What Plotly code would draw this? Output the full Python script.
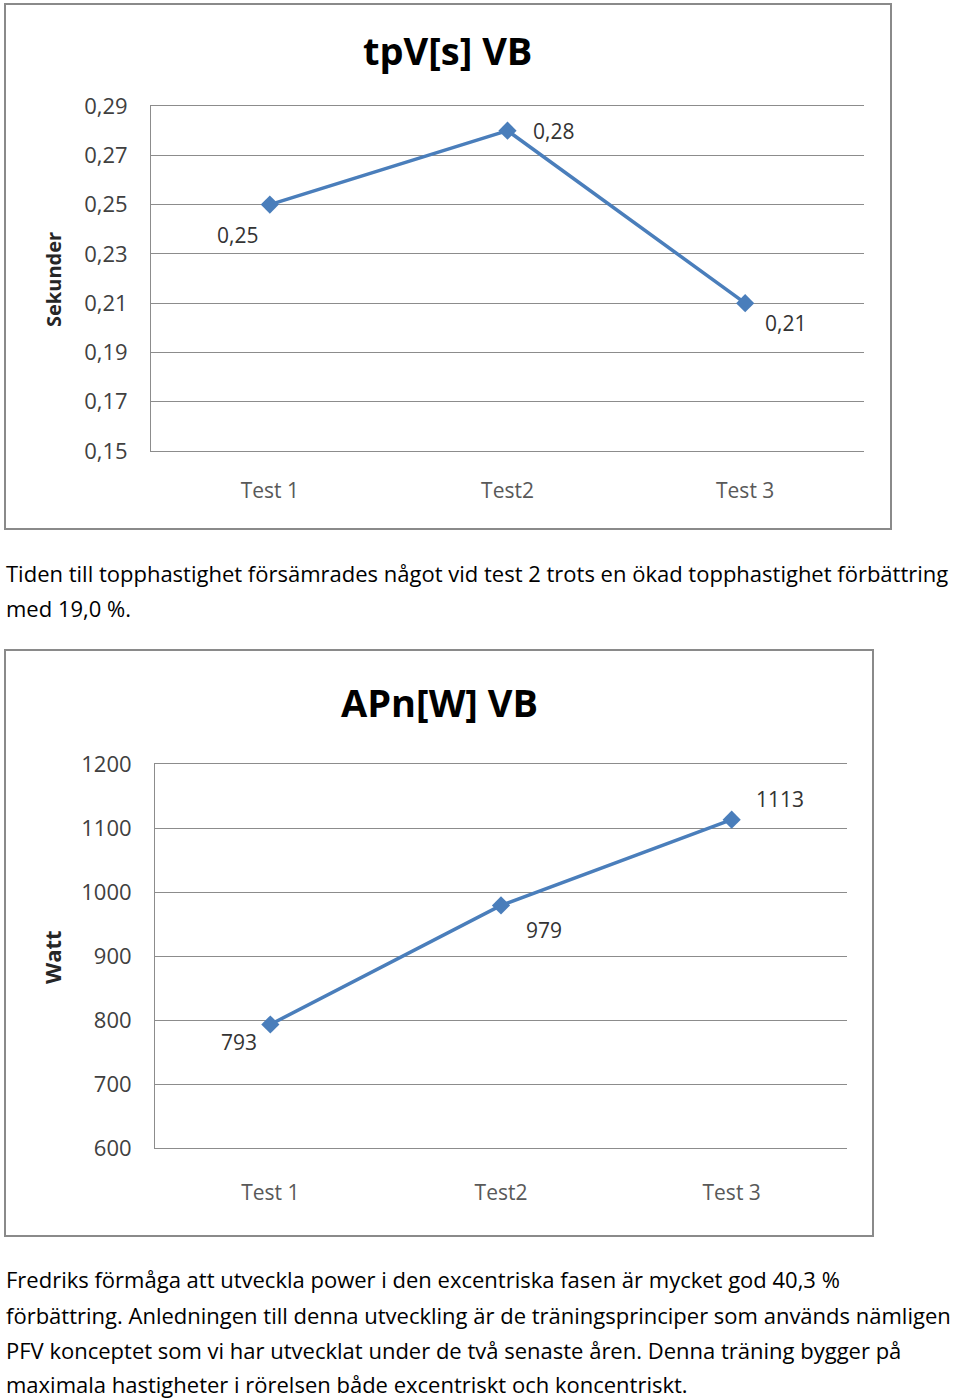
import plotly.graph_objects as go

# ---- data ----
categories = ["Test 1", "Test2", "Test 3"]
tpv_values = [0.25, 0.28, 0.21]
tpv_labels = ["0,25", "0,28", "0,21"]
apn_values = [793, 979, 1113]
apn_labels = ["793", "979", "1113"]

title1 = "tpV[s] VB"
title2 = "APn[W] VB"
ytitle1 = "Sekunder"
ytitle2 = "Watt"

para1 = [
    "Tiden till topphastighet försämrades något vid test 2 trots en ökad topphastighet förbättring",
    "med 19,0 %.",
]
para2 = [
    "Fredriks förmåga att utveckla power i den excentriska fasen är mycket god 40,3 %",
    "förbättring. Anledningen till denna utveckling är de träningsprinciper som används nämligen",
    "PFV konceptet som vi har utvecklat under de två senaste åren. Denna träning bygger på",
    "maximala hastigheter i rörelsen både excentriskt och koncentriskt.",
]

W, H = 960, 1399
FONT = "Open Sans"
BLUE = "#4a7ebb"
GRID = "#8c8c8c"


def px(x):
    return x / W


def py(y):
    return 1 - y / H


fig = go.Figure()

fig.add_trace(go.Scatter(
    x=categories, y=tpv_values, mode="lines+markers",
    line=dict(color=BLUE, width=3.5),
    marker=dict(symbol="diamond", size=14, color=BLUE),
    xaxis="x", yaxis="y", showlegend=False, hoverinfo="skip",
))
fig.add_trace(go.Scatter(
    x=categories, y=apn_values, mode="lines+markers",
    line=dict(color=BLUE, width=3.5),
    marker=dict(symbol="diamond", size=14, color=BLUE),
    xaxis="x2", yaxis="y2", showlegend=False, hoverinfo="skip",
))

tickfont = dict(family=FONT, size=22, color="#404040")
xtickfont = dict(family=FONT, size=21, color="#595959")

common_y = dict(showgrid=True, gridcolor=GRID, gridwidth=1, showline=True,
                linecolor=GRID, linewidth=1, ticks="", zeroline=False,
                tickfont=tickfont, ticklabelstandoff=18, fixedrange=True,
                automargin=False)
common_x = dict(showgrid=False, showline=True, mirror=True, linecolor=GRID,
                linewidth=1, ticks="", tickfont=xtickfont, zeroline=False,
                range=[-0.5, 2.5], fixedrange=True, automargin=False)

fig.update_layout(
    template="none",
    width=W, height=H,
    margin=dict(l=0, r=0, t=0, b=0, pad=0, autoexpand=False),
    paper_bgcolor="white", plot_bgcolor="white",
    separators=",.",
    xaxis=dict(domain=[px(151), px(864)], anchor="y", ticklabelstandoff=21,
               **common_x),
    yaxis=dict(domain=[py(451), py(106)], anchor="x", range=[0.15, 0.29],
               dtick=0.02, tick0=0.15, tickformat=".2f", **common_y),
    xaxis2=dict(domain=[px(155), px(847)], anchor="y2", ticklabelstandoff=26,
                **common_x),
    yaxis2=dict(domain=[py(1148), py(764)], anchor="x2", range=[600, 1200],
                dtick=100, tick0=600, **common_y),
)

shapes = [
    dict(type="rect", xref="paper", yref="paper", x0=px(5), x1=px(891),
         y0=py(529), y1=py(4), line=dict(color="#8a8a8a", width=2)),
    dict(type="rect", xref="paper", yref="paper", x0=px(5), x1=px(873),
         y0=py(1236), y1=py(650), line=dict(color="#8a8a8a", width=2)),
]
fig.update_layout(shapes=shapes)

ann = []
# titles
ann.append(dict(text="<b>" + title1 + "</b>", xref="paper", yref="paper",
                x=px(447), y=py(50), xanchor="center", yanchor="middle",
                showarrow=False, font=dict(family=FONT, size=38, color="black")))
ann.append(dict(text="<b>" + title2 + "</b>", xref="paper", yref="paper",
                x=px(439), y=py(702), xanchor="center", yanchor="middle",
                showarrow=False, font=dict(family=FONT, size=38, color="black")))
# axis titles
ann.append(dict(text="<b>" + ytitle1 + "</b>", xref="paper", yref="paper",
                x=px(53), y=py(280), xanchor="center", yanchor="middle",
                textangle=-90, showarrow=False,
                font=dict(family=FONT, size=20, color="#262626")))
ann.append(dict(text="<b>" + ytitle2 + "</b>", xref="paper", yref="paper",
                x=px(52), y=py(957), xanchor="center", yanchor="middle",
                textangle=-90, showarrow=False,
                font=dict(family=FONT, size=22, color="#262626")))

labfont = dict(family=FONT, size=21, color="#333333")
off1 = [(-32, -30), (46, 0), (40, -20)]
for i, (c, v, t) in enumerate(zip(categories, tpv_values, tpv_labels)):
    ann.append(dict(text=t, x=c, y=v, xref="x", yref="y", showarrow=False,
                    xshift=off1[i][0], yshift=off1[i][1], font=labfont))
off2 = [(-31, -18), (43, -25), (48, 21)]
for i, (c, v, t) in enumerate(zip(categories, apn_values, apn_labels)):
    ann.append(dict(text=t, x=c, y=v, xref="x2", yref="y2", showarrow=False,
                    xshift=off2[i][0], yshift=off2[i][1], font=labfont))

bodyfont = dict(family=FONT, size=22, color="black")
for i, line in enumerate(para1):
    ann.append(dict(text=line, xref="paper", yref="paper", x=px(4),
                    y=py(573 + 35 * i), xanchor="left", yanchor="middle",
                    showarrow=False, font=bodyfont))
para2_y = [1279, 1315, 1350, 1384]
for line, yy in zip(para2, para2_y):
    ann.append(dict(text=line, xref="paper", yref="paper", x=px(4),
                    y=py(yy), xanchor="left", yanchor="middle",
                    showarrow=False, font=bodyfont))

fig.update_layout(annotations=ann)
fig.write_html("out.html")
